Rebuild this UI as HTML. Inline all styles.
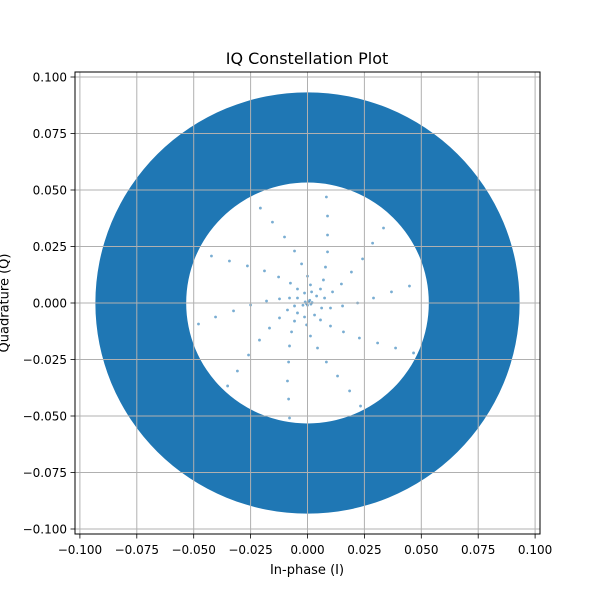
<!DOCTYPE html>
<html><head><meta charset="utf-8"><style>
body{margin:0;background:#fff;}
svg text{font-family:"DejaVu Sans","Liberation Sans",sans-serif;fill:#000;}
</style></head><body>
<svg width="600" height="600" id="c">
<rect width="600" height="600" fill="#fff"/>
<g id="marks"></g>
<g id="grid"></g>
<rect x="75" y="72" width="465" height="462" fill="none" stroke="#000" stroke-width="1"/>
<g id="ticks"></g>
<text x="307" y="64" font-size="16" text-anchor="middle">IQ Constellation Plot</text>
<text x="307" y="574" font-size="13" text-anchor="middle">In-phase (I)</text>
<text x="4" y="303" font-size="13" text-anchor="middle" transform="rotate(-90 4 303)" dy="0.35em">Quadrature (Q)</text>
</svg>
<script>
const xTicks=[-0.1,-0.075,-0.05,-0.025,0,0.025,0.05,0.075,0.1];
const yTicks=[-0.1,-0.075,-0.05,-0.025,0,0.025,0.05,0.075,0.1];
const tickLabels=["−0.100","−0.075","−0.050","−0.025","0.000","0.025","0.050","0.075","0.100"];
const ringOuter=0.0932;
const ringInner=0.0533;
const pointsI=[0.0083,0.0088,0.0088,0.0088,0.0079,0.0070,0.0057,0.0040,
-0.0207,-0.0154,-0.0101,-0.0057,-0.0026,0,0.0013,0.0018,
0.0334,0.0286,0.0242,0.0193,0.0149,0.0110,0.0075,
-0.0422,-0.0343,-0.0264,-0.0189,-0.0127,-0.0075,-0.0044,-0.0013,
0.0448,0.0369,0.0290,0.0220,0.0154,0.0101,0.0062,
-0.0479,-0.0404,-0.0325,-0.0250,-0.0180,-0.0123,-0.0079,-0.0044,
0.0466,0.0387,0.0308,0.0228,0.0158,0.0101,0.0057,0.0031,
-0.0351,-0.0308,-0.0259,-0.0211,-0.0167,-0.0123,-0.0088,-0.0057,
0.0233,0.0185,0.0132,0.0083,0.0044,0.0013,-0.0004,-0.0013,
-0.0079,-0.0083,-0.0088,-0.0083,-0.0079,-0.0070,-0.0057,-0.0044,
0.0005,-0.0010,0.0015,0,-0.0005,0.0010,0.0020,-0.0020];
const pointsQ=[0.0469,0.0385,0.0301,0.0226,0.0159,0.0102,0.0062,0.0031,
0.0420,0.0358,0.0292,0.0230,0.0173,0.0119,0.0080,0.0049,
0.0332,0.0265,0.0195,0.0137,0.0084,0.0049,0.0022,
0.0208,0.0186,0.0164,0.0142,0.0115,0.0088,0.0062,0.0044,
0.0075,0.0049,0.0022,0,-0.0013,-0.0022,-0.0022,
-0.0093,-0.0062,-0.0035,-0.0009,0.0009,0.0018,0.0022,0.0022,
-0.0221,-0.0199,-0.0177,-0.0155,-0.0128,-0.0102,-0.0075,-0.0053,
-0.0367,-0.0301,-0.0230,-0.0164,-0.0111,-0.0066,-0.0031,-0.0013,
-0.0456,-0.0389,-0.0323,-0.0261,-0.0199,-0.0146,-0.0097,-0.0062,
-0.0509,-0.0425,-0.0345,-0.0261,-0.0190,-0.0128,-0.0080,-0.0044,
0.0005,0.0005,-0.0005,-0.0010,-0.0003,0.0012,0.0002,-0.0010];

const NS="http://www.w3.org/2000/svg";
const X=v=>307.5+v*2276;
const Y=v=>303+v*(-2260);
function mk(tag,attrs,parent){const e=document.createElementNS(NS,tag);for(const k in attrs)e.setAttribute(k,attrs[k]);parent.appendChild(e);return e;}
const grid=document.getElementById('grid'),ticks=document.getElementById('ticks'),marks=document.getElementById('marks');
xTicks.forEach((t,i)=>{
  const g=mk('line',{x1:X(t),x2:X(t),y1:72,y2:534,stroke:'#b0b0b0','stroke-width':1},grid);
  
  
  const tk=mk('line',{x1:X(t),x2:X(t),y1:534,y2:538.5,stroke:'#000','stroke-width':0.8},ticks);
  
  
  const lb=mk('text',{x:X(t),y:554,'font-size':12,'text-anchor':'middle'},ticks);
  lb.textContent=tickLabels[i];
  
  
});
yTicks.forEach((t,i)=>{
  const g=mk('line',{x1:75,x2:540,y1:Y(t),y2:Y(t),stroke:'#b0b0b0','stroke-width':1},grid);
  
  
  const tk=mk('line',{x1:70.5,x2:75,y1:Y(t),y2:Y(t),stroke:'#000','stroke-width':0.8},ticks);
  
  
  const lb=mk('text',{x:67,y:Y(t)+4.5,'font-size':12,'text-anchor':'end'},ticks);
  lb.textContent=tickLabels[i];
  
  
});
const cx=X(0),cy=Y(0);
const rxo=ringOuter*2276,ryo=ringOuter*2260,rxi=ringInner*2276,ryi=ringInner*2260;
const d=`M${cx-rxo},${cy}a${rxo},${ryo} 0 1,0 ${2*rxo},0a${rxo},${ryo} 0 1,0 ${-2*rxo},0Z M${cx-rxi},${cy}a${rxi},${ryi} 0 1,0 ${2*rxi},0a${rxi},${ryi} 0 1,0 ${-2*rxi},0Z`;
const ring=mk('path',{d:d,fill:'#1f77b4','fill-rule':'evenodd'},marks);


pointsI.forEach((v,i)=>{
  const p=mk('circle',{cx:X(v),cy:Y(pointsQ[i]),r:1.4,fill:'#1f77b4','fill-opacity':0.6},marks);
  
  
});
</script>
</body></html>
